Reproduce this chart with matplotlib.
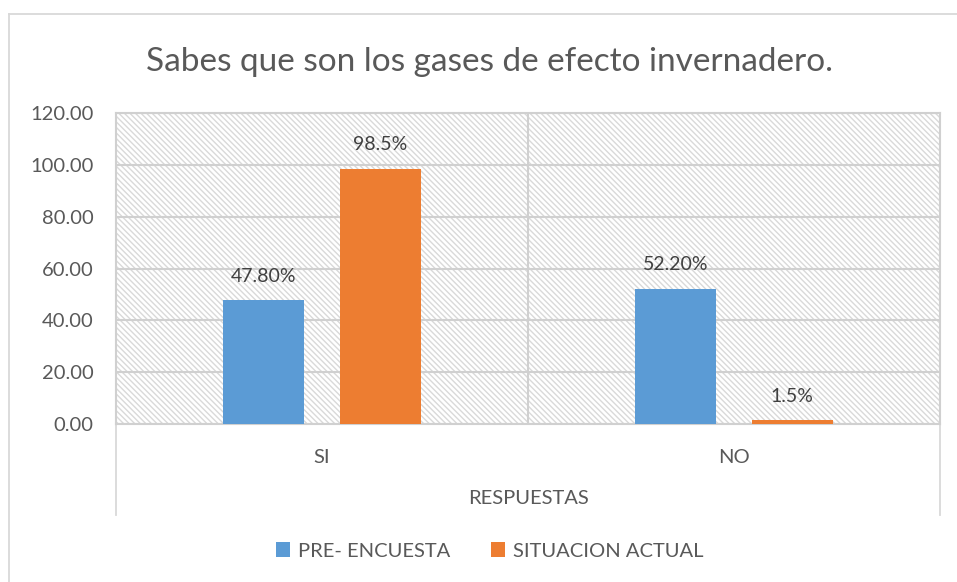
import matplotlib.pyplot as plt
from matplotlib.patches import Rectangle
from matplotlib.lines import Line2D
import numpy as np

plt.rcParams['font.family'] = ['Lato', 'DejaVu Sans']
plt.rcParams['hatch.linewidth'] = 1.0
plt.rcParams['hatch.color'] = '#d9d9d9'

# data
categories = ["SI", "NO"]
pre_encuesta = [47.80, 52.20]
situacion_actual = [98.5, 1.5]
pre_labels = ["47.80%", "52.20%"]
actual_labels = ["98.5%", "1.5%"]
yticks = [0, 20, 40, 60, 80, 100, 120]

blue = "#5b9bd5"
orange = "#ed7d31"
grid = "#d9d9d9"
txt = "#595959"

fig = plt.figure(figsize=(9.57, 5.82), dpi=100)
ax = fig.add_axes([116/957, 1-424/582, 824/957, 311/582])

x = np.arange(len(categories))
w = 0.197
off = 0.141
b1 = ax.bar(x - off, pre_encuesta, w, color=blue, zorder=3, label="PRE- ENCUESTA")
b2 = ax.bar(x + off, situacion_actual, w, color=orange, zorder=3, label="SITUACION ACTUAL")

for bar, lab in zip(b1, pre_labels):
    ax.text(bar.get_x() + bar.get_width()/2, bar.get_height() + 6, lab,
            ha='center', va='bottom', fontsize=14, color='#404040')
for bar, lab in zip(b2, actual_labels):
    ax.text(bar.get_x() + bar.get_width()/2, bar.get_height() + 6, lab,
            ha='center', va='bottom', fontsize=14, color='#404040')

ax.set_xlim(-0.5, 1.5)
ax.set_ylim(0, 120)
ax.set_yticks(yticks)
ax.set_yticklabels([f"{v:.2f}" for v in yticks])
ax.set_xticks(x)
ax.set_xticklabels(categories)
ax.tick_params(axis='y', length=0, pad=16, labelsize=14.5, labelcolor=txt)
ax.tick_params(axis='x', length=0, pad=18, labelsize=14.5, labelcolor=txt)

# hatched plot area background
ax.add_patch(Rectangle((0, 0), 1, 1, transform=ax.transAxes, facecolor='white',
                       edgecolor=grid, hatch='\\' * 6, linewidth=0, zorder=0))
ax.set_axisbelow(True)
ax.grid(axis='y', color='#d0d0d0', linewidth=1.5, zorder=1)
ax.axvline(0.5, color='#d0d0d0', linewidth=1.5, zorder=1)
for s in ax.spines.values():
    s.set_color('#d0d0d0')
    s.set_linewidth(1.5)

# category frame below the plot
for xx in (0, 1):
    ax.add_line(Line2D([xx, xx], [0, -0.293], transform=ax.transAxes,
                       color=grid, linewidth=1.3, clip_on=False))
ax.text(0.5, -0.24, "RESPUESTAS", transform=ax.transAxes, ha='center',
        va='center', fontsize=14.5, color=txt)

fig.text(0.512, 1-62/582, "Sabes que son los gases de efecto invernadero.",
         ha='center', va='center', fontsize=24, color=txt)

fig.legend(handles=[b1, b2], loc='center', bbox_to_anchor=(0.512, 1-551/582),
           ncol=2, frameon=False, fontsize=14.5, handlelength=0.7, handleheight=0.7,
           columnspacing=2.0, handletextpad=0.4, labelcolor=txt)

# outer chart border (partially cropped)
fig.add_artist(Line2D([9/957, 1], [1-14/582, 1-14/582], transform=fig.transFigure,
                      color=grid, linewidth=1.3))
fig.add_artist(Line2D([9/957, 9/957], [0, 1-14/582], transform=fig.transFigure,
                      color=grid, linewidth=1.3))

fig.savefig("out.png", dpi=100)
